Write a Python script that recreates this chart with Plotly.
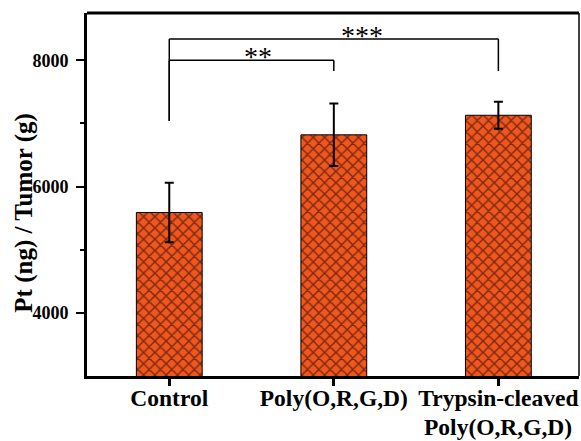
import plotly.graph_objects as go

categories = ["Control", "Poly(O,R,G,D)", "Trypsin-cleaved<br>Poly(O,R,G,D)"]
values = [5590, 6820, 7130]
errors = [470, 495, 215]
y_ticks = [4000, 6000, 8000]
y_title = "Pt (ng) / Tumor (g)"

# significance brackets: (x_start, x_end, level, left_bottom, right_bottom, label, label_x, label_y)
brackets = [
    (0, 1, 8000, 7040, 7830, "**", 0.54, 8130),
    (0, 2, 8340, 7040, 7830, "***", 1.17, 8450),
]

FONT = "Liberation Serif"
BAR_COLOR = "#F2561F"
XFONT = dict(family=FONT, size=23.5, color="black", weight="bold")

fig = go.Figure()
fig.add_trace(go.Bar(
    x=list(range(len(categories))),
    y=values,
    width=0.4,
    marker=dict(
        color=BAR_COLOR,
        line=dict(color="black", width=1),
        pattern=dict(shape="x", fgcolor="black", bgcolor=BAR_COLOR, size=8, solidity=0.33),
    ),
    error_y=dict(type="data", array=errors, visible=True, color="black", thickness=2, width=4.5),
    showlegend=False,
))

shapes = []
annotations = []
for x0, x1, lvl, lb, rb, lab, lx, ly in brackets:
    shapes.append(dict(type="line", xref="x", yref="y", x0=x0, x1=x0, y0=lb, y1=lvl,
                       line=dict(color="black", width=1.5)))
    shapes.append(dict(type="line", xref="x", yref="y", x0=x0, x1=x1, y0=lvl, y1=lvl,
                       line=dict(color="black", width=1.5)))
    shapes.append(dict(type="line", xref="x", yref="y", x0=x1, x1=x1, y0=lvl, y1=rb,
                       line=dict(color="black", width=1.5)))
    annotations.append(dict(x=lx, y=ly, xref="x", yref="y",
                            text=lab, showarrow=False, yanchor="middle", yshift=-4,
                            font=dict(family=FONT, size=28, color="black")))

# category labels: first line as tick text, further lines as tighter-spaced text below
first_lines = [c.split("<br>")[0] for c in categories]
for i, c in enumerate(categories):
    rest = c.split("<br>")[1:]
    if rest:
        annotations.append(dict(x=i, y=0, xref="x", yref="paper", xanchor="center", yanchor="top",
                                yshift=-36, text="<br>".join(rest), showarrow=False, font=XFONT))

# y axis title
annotations.append(dict(x=0, y=0.45, xref="paper", yref="paper", xanchor="center", yanchor="middle",
                        xshift=-63, textangle=-90, text=y_title, showarrow=False,
                        font=dict(family=FONT, size=25, color="black", weight="bold")))

# frame: top (thick) and right (thin)
shapes.append(dict(type="line", xref="paper", yref="paper", x0=0, x1=1, y0=1, y1=1,
                   line=dict(color="black", width=3)))
shapes.append(dict(type="line", xref="paper", yref="paper", x0=1, x1=1, y0=0, y1=1,
                   line=dict(color="black", width=1.5)))

fig.update_layout(
    width=581, height=441,
    margin=dict(l=87, r=2, t=13, b=65),
    plot_bgcolor="white", paper_bgcolor="white",
    shapes=shapes, annotations=annotations,
)
fig.update_xaxes(
    range=[-0.5, 2.49], automargin=False,
    tickmode="array", tickvals=list(range(len(categories))), ticktext=first_lines,
    tickfont=XFONT,
    ticklabelstandoff=-8,
    showline=True, linecolor="black", linewidth=3,
    ticks="outside", ticklen=7, tickwidth=2.5, tickcolor="black",
    showgrid=False, zeroline=False,
)
fig.update_yaxes(
    range=[3000, 8750], automargin=False,
    tickmode="array", tickvals=y_ticks,
    tickfont=dict(family=FONT, size=18, color="black", weight="bold"),
    ticklabelstandoff=4,
    showline=True, linecolor="black", linewidth=3,
    ticks="outside", ticklen=8, tickwidth=2, tickcolor="black",
    minor=dict(tickvals=[5000, 7000], ticks="outside", ticklen=4, tickwidth=2, tickcolor="black"),
    showgrid=False, zeroline=False,
)

fig.write_html("out.html", config={"displayModeBar": False},
               post_script="document.body.style.margin='0';document.body.style.overflow='hidden';")
